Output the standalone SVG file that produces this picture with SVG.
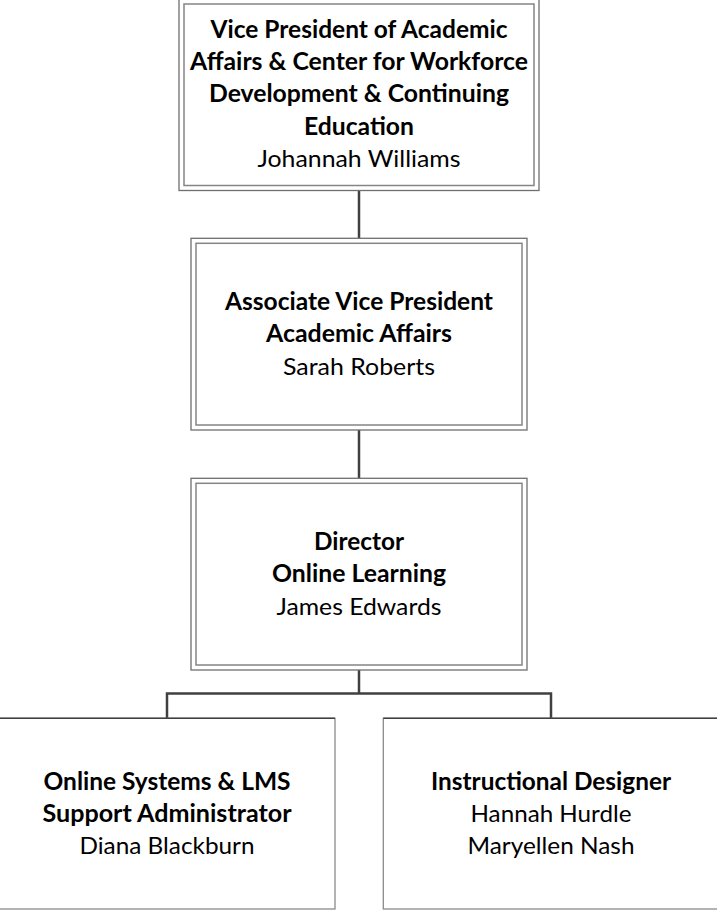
<svg xmlns="http://www.w3.org/2000/svg" width="717" height="911" viewBox="0 0 717 911">
<style>
.bg{fill:#ffffff}
.outer{fill:none;stroke:#6f6f6f;stroke-width:1.3}
.inner{fill:none;stroke:#858585;stroke-width:1.5}
.box{fill:#ffffff;stroke:#8a8a8a;stroke-width:1.3}
.top{stroke:#404040;stroke-width:1.5}
.conn{fill:none;stroke:#404040;stroke-width:2.5}
text{font-family:Lato,"Open Sans","Liberation Sans",sans-serif;font-size:24px;fill:#000000;text-anchor:middle}
.b{font-weight:bold}
</style>
<rect class="bg" x="0" y="0" width="717" height="911"/>
<g id="connectors">
<line class="conn" x1="359" y1="190" x2="359" y2="238"/>
<line class="conn" x1="359" y1="430" x2="359" y2="478"/>
<line class="conn" x1="359" y1="670" x2="359" y2="693.5"/>
<polyline class="conn" points="167,718 167,693.5 551,693.5 551,718"/>
</g>
<g id="vp">
<rect class="outer" x="179" y="-1" width="360" height="191.5"/>
<rect class="inner" x="184" y="4" width="350" height="181.5"/>
<text class="b" x="359" y="37.7" textLength="297" lengthAdjust="spacingAndGlyphs">Vice President of Academic</text>
<text class="b" x="359" y="70" textLength="338" lengthAdjust="spacingAndGlyphs">Affairs &amp; Center for Workforce</text>
<text class="b" x="359" y="102.2" textLength="300" lengthAdjust="spacingAndGlyphs">Development &amp; Continuing</text>
<text class="b" x="359" y="134.5" textLength="110" lengthAdjust="spacingAndGlyphs">Education</text>
<text x="359" y="166.7" textLength="203" lengthAdjust="spacingAndGlyphs">Johannah Williams</text>
</g>
<g id="avp">
<rect class="outer" x="191" y="238.3" width="336" height="191.7"/>
<rect class="inner" x="196" y="243.3" width="326" height="181.7"/>
<text class="b" x="359" y="310" textLength="268" lengthAdjust="spacingAndGlyphs">Associate Vice President</text>
<text class="b" x="359" y="342.2" textLength="186" lengthAdjust="spacingAndGlyphs">Academic Affairs</text>
<text x="359" y="374.5" textLength="152" lengthAdjust="spacingAndGlyphs">Sarah Roberts</text>
</g>
<g id="director">
<rect class="outer" x="191" y="478.3" width="336" height="191.7"/>
<rect class="inner" x="196" y="483.3" width="326" height="181.7"/>
<text class="b" x="359" y="550" textLength="90" lengthAdjust="spacingAndGlyphs">Director</text>
<text class="b" x="359" y="582.2" textLength="174" lengthAdjust="spacingAndGlyphs">Online Learning</text>
<text x="359" y="614.5" textLength="165" lengthAdjust="spacingAndGlyphs">James Edwards</text>
</g>
<g id="lms">
<rect class="box" x="-2" y="718.3" width="337" height="190.7"/>
<line class="top" x1="0" y1="718.3" x2="335" y2="718.3"/>
<text class="b" x="167" y="789.7" textLength="247" lengthAdjust="spacingAndGlyphs">Online Systems &amp; LMS</text>
<text class="b" x="167" y="821.8" textLength="249" lengthAdjust="spacingAndGlyphs">Support Administrator</text>
<text x="167" y="853.5" textLength="175" lengthAdjust="spacingAndGlyphs">Diana Blackburn</text>
</g>
<g id="designer">
<rect class="box" x="383.3" y="718.3" width="337" height="190.7"/>
<line class="top" x1="383.3" y1="718.3" x2="717" y2="718.3"/>
<text class="b" x="551" y="789.7" textLength="240" lengthAdjust="spacingAndGlyphs">Instructional Designer</text>
<text x="551" y="821.8" textLength="161" lengthAdjust="spacingAndGlyphs">Hannah Hurdle</text>
<text x="551" y="853.5" textLength="167" lengthAdjust="spacingAndGlyphs">Maryellen Nash</text>
</g>
</svg>
